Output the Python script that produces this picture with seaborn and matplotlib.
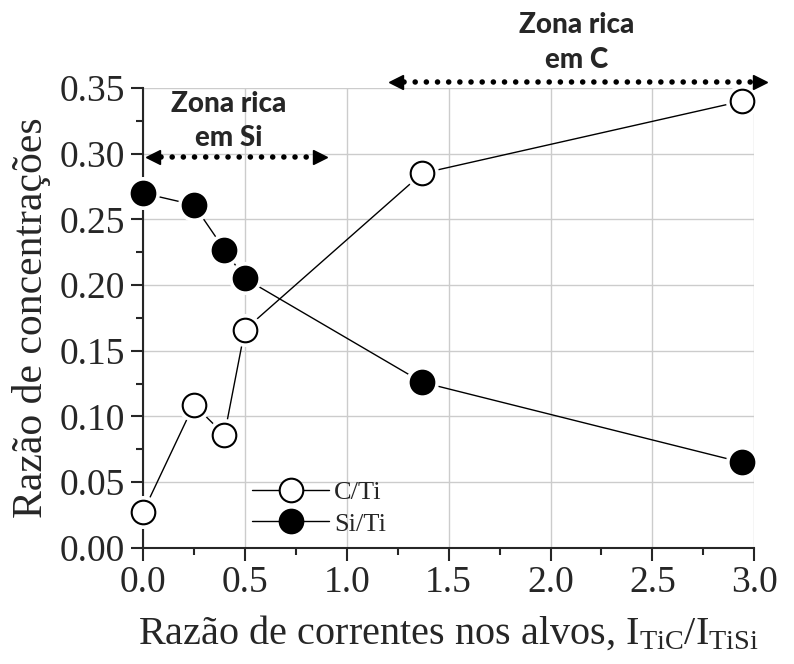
import matplotlib
matplotlib.use('Agg')
import matplotlib.pyplot as plt
import seaborn as sns
from matplotlib.ticker import MultipleLocator
from matplotlib.lines import Line2D

# data
razao_correntes = [0.0, 0.25, 0.40, 0.50, 1.37, 2.94]
c_ti = [0.027, 0.109, 0.086, 0.166, 0.285, 0.340]
si_ti = [0.270, 0.261, 0.227, 0.205, 0.126, 0.065]

sns.set_style('ticks')
plt.rcParams['font.family'] = ['Liberation Serif', 'DejaVu Serif']
plt.rcParams['mathtext.fontset'] = 'custom'
plt.rcParams['mathtext.rm'] = 'Liberation Serif'
plt.rcParams['mathtext.it'] = 'Liberation Serif'

fig = plt.figure(figsize=(7.94, 6.64), dpi=100)
ax = fig.add_axes([0.18, 0.175, 0.77, 0.6925])

ms = 17
for y, face in [(c_ti, 'white'), (si_ti, 'black')]:
    sns.lineplot(x=razao_correntes, y=y, ax=ax, color='black', lw=1, zorder=2)
    # white halo so line stops short of the marker
    sns.lineplot(x=razao_correntes, y=y, ax=ax, lw=0, marker='o', markersize=ms + 6,
                 markerfacecolor='white', markeredgecolor='white', zorder=3, clip_on=False)
    sns.lineplot(x=razao_correntes, y=y, ax=ax, lw=0, marker='o', markersize=ms,
                 markerfacecolor=face, markeredgecolor='black', markeredgewidth=1.5,
                 zorder=4, clip_on=False)

ax.set_xlim(0, 3.0)
ax.set_ylim(0, 0.35)
ax.xaxis.set_major_locator(MultipleLocator(0.5))
ax.xaxis.set_minor_locator(MultipleLocator(0.25))
ax.yaxis.set_major_locator(MultipleLocator(0.05))
ax.yaxis.set_minor_locator(MultipleLocator(0.025))
ax.xaxis.set_major_formatter(lambda v, p: f'{v:.1f}')
ax.yaxis.set_major_formatter(lambda v, p: f'{v:.2f}')
ax.grid(True, which='major', color='#cccccc', lw=1, zorder=0)
ax.set_axisbelow(True)
sns.despine(ax=ax)
for s in ['left', 'bottom']:
    ax.spines[s].set_linewidth(1.5)
ax.tick_params(which='major', direction='out', length=9, width=1.5, labelsize=27, pad=4)
ax.tick_params(which='minor', direction='out', length=5, width=1.5)

ax.set_ylabel('Razão de concentrações', fontsize=30, labelpad=6)
ax.set_xlabel(r'Razão de correntes nos alvos, I$_{\mathregular{TiC}}$/I$_{\mathregular{TiSi}}$',
              fontsize=29, labelpad=10)

# legend
handles = [Line2D([], [], color='black', lw=1, marker='o', markersize=ms,
                  markerfacecolor='white', markeredgecolor='black', markeredgewidth=1.5),
           Line2D([], [], color='black', lw=1, marker='o', markersize=ms,
                  markerfacecolor='black', markeredgecolor='black', markeredgewidth=1.5)]
ax.legend(handles, ['C/Ti', 'Si/Ti'], loc='lower left', bbox_to_anchor=(0.14, -0.025),
          frameon=False, fontsize=19, handlelength=2.9, handletextpad=0.2, labelspacing=0.3)

# zone annotations
bold = dict(family=['Lato', 'DejaVu Sans'], fontweight='black', fontsize=20,
            ha='center', va='center', clip_on=False)


def dotted_arrow(x0, x1, yv):
    ax.plot([x0 + 0.04, x1 - 0.04], [yv, yv], color='black', lw=4,
            linestyle=(0, (0.01, 2.0)), dash_capstyle='round', clip_on=False, zorder=5)
    ax.plot([x0], [yv], marker='<', color='black', markersize=10, clip_on=False, zorder=5)
    ax.plot([x1], [yv], marker='>', color='black', markersize=10, clip_on=False, zorder=5)


dotted_arrow(0.05, 0.87, 0.2975)
ax.text(0.42, 0.338, 'Zona rica', **bold)
ax.text(0.42, 0.312, 'em Si', **bold)
dotted_arrow(1.24, 3.03, 0.3546)
ax.text(2.13, 0.398, 'Zona rica', **bold)
ax.text(2.13, 0.371, 'em C', **bold)

fig.savefig('out.png', dpi=100)
